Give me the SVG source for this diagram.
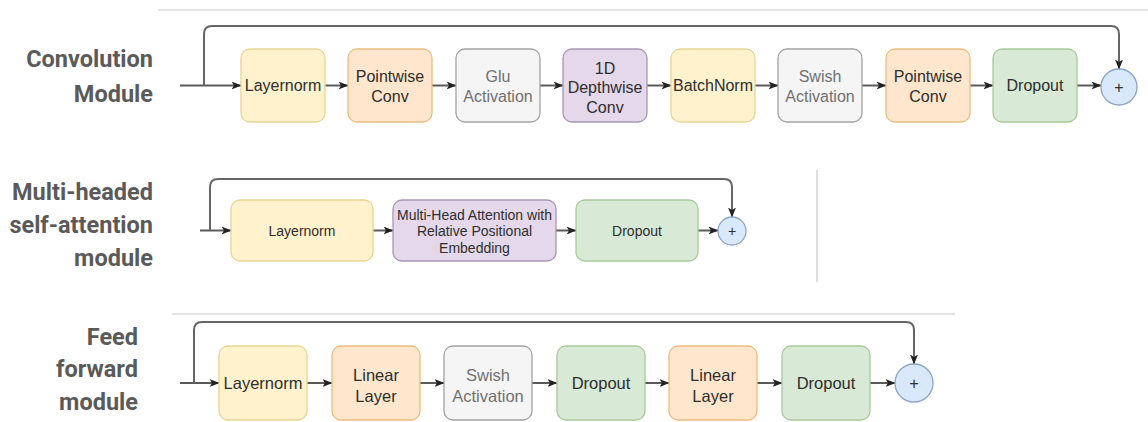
<svg xmlns="http://www.w3.org/2000/svg" width="1148" height="422" viewBox="0 0 1148 422">
<defs>
<marker id="arr" viewBox="0 0 10 8" refX="9.5" refY="4" markerWidth="10" markerHeight="8" markerUnits="userSpaceOnUse" orient="auto">
<path d="M0,0 L10,4 L0,8 L2.5,4 z" fill="#222"/>
</marker>
<style>
.lbl{font-family:Roboto,"Liberation Sans",sans-serif;font-weight:bold;font-size:23.5px;fill:#5a5a5a;text-anchor:end}
.sep{stroke:#c8c8c8;stroke-width:1.2;fill:none}
.c{stroke:#5a5a5a;stroke-width:2;fill:none}
.sk{stroke:#666;stroke-width:2;fill:none}
.t{font-family:"Liberation Sans",Arial,sans-serif;fill:#2e2e2e;text-anchor:middle}
.tg{fill:#707070}
.r1{font-size:16px}
.r2{font-size:14px}
.r3{font-size:16.5px}
.yel{fill:#fff2cc;stroke:#e8d597;stroke-width:1.3}
.ora{fill:#ffe6cc;stroke:#ebbd7f;stroke-width:1.3}
.gry{fill:#f5f5f5;stroke:#a3a3a3;stroke-width:1.3}
.pur{fill:#e4d8ea;stroke:#a996b3;stroke-width:1.3}
.grn{fill:#d8e9d5;stroke:#a8c99c;stroke-width:1.3}
.blu{fill:#dae8fc;stroke:#8ba4c8;stroke-width:1.3}
</style>
</defs>
<rect width="1148" height="422" fill="#fff"/>

<g id="separators">
<line class="sep" x1="158" y1="10" x2="1148" y2="10"/>
<line class="sep" x1="817" y1="170" x2="817" y2="282"/>
<line class="sep" x1="172" y1="314" x2="955" y2="314"/>
</g>

<g id="labels">
<text class="lbl" x="153" y="67">Convolution</text>
<text class="lbl" x="153" y="102">Module</text>
<text class="lbl" x="153" y="200">Multi-headed</text>
<text class="lbl" x="153" y="233">self-attention</text>
<text class="lbl" x="153" y="266">module</text>
<text class="lbl" x="138" y="345">Feed</text>
<text class="lbl" x="138" y="377">forward</text>
<text class="lbl" x="138" y="410">module</text>
</g>

<g id="connectors">
<!-- convolution -->
<path class="c" d="M180,85.5 H241" marker-end="url(#arr)"/>
<path class="sk" d="M204,85.5 V34 Q204,26 212,26 H1111 Q1119,26 1119,34 V69" marker-end="url(#arr)"/>
<path class="c" d="M325,85.5 H348" marker-end="url(#arr)"/>
<path class="c" d="M432,85.5 H456" marker-end="url(#arr)"/>
<path class="c" d="M540,85.5 H563" marker-end="url(#arr)"/>
<path class="c" d="M647,85.5 H671" marker-end="url(#arr)"/>
<path class="c" d="M755,85.5 H778" marker-end="url(#arr)"/>
<path class="c" d="M862,85.5 H886" marker-end="url(#arr)"/>
<path class="c" d="M970,85.5 H993" marker-end="url(#arr)"/>
<path class="c" d="M1077,85.5 H1101" marker-end="url(#arr)"/>
<!-- mhsa -->
<path class="c" d="M200,230.5 H231" marker-end="url(#arr)"/>
<path class="sk" d="M210,230.5 V187 Q210,179 218,179 H724 Q732,179 732,187 V217" marker-end="url(#arr)"/>
<path class="c" d="M373,230.5 H393" marker-end="url(#arr)"/>
<path class="c" d="M556,230.5 H576" marker-end="url(#arr)"/>
<path class="c" d="M698,230.5 H718" marker-end="url(#arr)"/>
<!-- feed forward -->
<path class="c" d="M180,383 H219" marker-end="url(#arr)"/>
<path class="sk" d="M194,383 V330 Q194,322 202,322 H906 Q914,322 914,330 V364" marker-end="url(#arr)"/>
<path class="c" d="M307,383 H332" marker-end="url(#arr)"/>
<path class="c" d="M420,383 H444" marker-end="url(#arr)"/>
<path class="c" d="M532,383 H557" marker-end="url(#arr)"/>
<path class="c" d="M645,383 H669" marker-end="url(#arr)"/>
<path class="c" d="M757,383 H782" marker-end="url(#arr)"/>
<path class="c" d="M870,383 H895" marker-end="url(#arr)"/>
</g>

<!-- Convolution module nodes -->
<g id="conv-layernorm"><rect class="yel" x="241" y="49" width="84" height="73" rx="9"/><text class="t r1" x="283" y="91">Layernorm</text></g>
<g id="conv-pointwise1"><rect class="ora" x="348" y="49" width="84" height="73" rx="9"/><text class="t r1" x="390" y="82">Pointwise</text><text class="t r1" x="390" y="102">Conv</text></g>
<g id="conv-glu"><rect class="gry" x="456" y="49" width="84" height="73" rx="9"/><text class="t tg r1" x="498" y="82">Glu</text><text class="t tg r1" x="498" y="102">Activation</text></g>
<g id="conv-depthwise"><rect class="pur" x="563" y="49" width="84" height="73" rx="9"/><text class="t r1" x="605" y="73.5">1D</text><text class="t r1" x="605" y="93">Depthwise</text><text class="t r1" x="605" y="112.5">Conv</text></g>
<g id="conv-batchnorm"><rect class="yel" x="671" y="49" width="84" height="73" rx="9"/><text class="t r1" x="713" y="91">BatchNorm</text></g>
<g id="conv-swish"><rect class="gry" x="778" y="49" width="84" height="73" rx="9"/><text class="t tg r1" x="820" y="82">Swish</text><text class="t tg r1" x="820" y="102">Activation</text></g>
<g id="conv-pointwise2"><rect class="ora" x="886" y="49" width="84" height="73" rx="9"/><text class="t r1" x="928" y="82">Pointwise</text><text class="t r1" x="928" y="102">Conv</text></g>
<g id="conv-dropout"><rect class="grn" x="993" y="49" width="84" height="73" rx="9"/><text class="t r1" x="1035" y="91">Dropout</text></g>
<g id="conv-add"><circle class="blu" cx="1119" cy="87" r="18"/><text class="t r1" x="1119" y="92.5">+</text></g>

<!-- MHSA module nodes -->
<g id="mhsa-layernorm"><rect class="yel" x="231" y="200" width="142" height="61" rx="9"/><text class="t r2" x="302" y="235.5">Layernorm</text></g>
<g id="mhsa-attention"><rect class="pur" x="393" y="200" width="163" height="61" rx="9"/><text class="t r2" x="474.5" y="220">Multi-Head Attention with</text><text class="t r2" x="474.5" y="236">Relative Positional</text><text class="t r2" x="474.5" y="252.5">Embedding</text></g>
<g id="mhsa-dropout"><rect class="grn" x="576" y="200" width="122" height="61" rx="9"/><text class="t r2" x="637" y="235.5">Dropout</text></g>
<g id="mhsa-add"><circle class="blu" cx="732" cy="231" r="14"/><text class="t r2" x="732" y="236">+</text></g>

<!-- Feed forward module nodes -->
<g id="ff-layernorm"><rect class="yel" x="219" y="346" width="88" height="74" rx="9"/><text class="t r3" x="263" y="389">Layernorm</text></g>
<g id="ff-linear1"><rect class="ora" x="332" y="346" width="88" height="74" rx="9"/><text class="t r3" x="376" y="381">Linear</text><text class="t r3" x="376" y="402">Layer</text></g>
<g id="ff-swish"><rect class="gry" x="444" y="346" width="88" height="74" rx="9"/><text class="t tg r3" x="488" y="381">Swish</text><text class="t tg r3" x="488" y="402">Activation</text></g>
<g id="ff-dropout1"><rect class="grn" x="557" y="346" width="88" height="74" rx="9"/><text class="t r3" x="601" y="389">Dropout</text></g>
<g id="ff-linear2"><rect class="ora" x="669" y="346" width="88" height="74" rx="9"/><text class="t r3" x="713" y="381">Linear</text><text class="t r3" x="713" y="402">Layer</text></g>
<g id="ff-dropout2"><rect class="grn" x="782" y="346" width="88" height="74" rx="9"/><text class="t r3" x="826" y="389">Dropout</text></g>
<g id="ff-add"><circle class="blu" cx="914" cy="383" r="19"/><text class="t r3" x="914" y="389">+</text></g>
</svg>
